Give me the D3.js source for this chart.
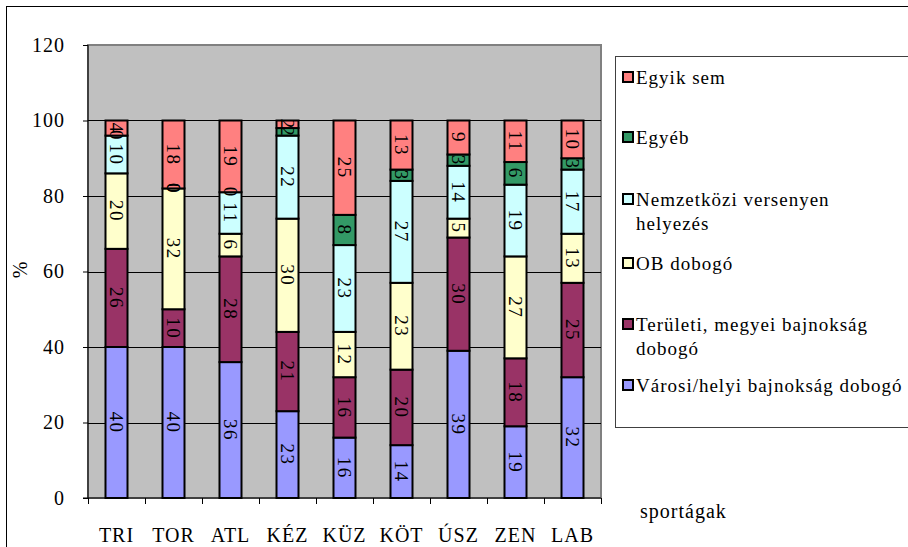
<!DOCTYPE html>
<html><head><meta charset="utf-8">
<script src="https://cdn.jsdelivr.net/npm/d3@7/dist/d3.min.js"></script>
<style>body{margin:0;background:#fff}svg{display:block}</style>
</head><body><svg id="c" width="908" height="547"></svg>
<script>
const categories = ["TRI","TOR","ATL","KÉZ","KÜZ","KÖT","ÚSZ","ZEN","LAB"];
const seriesNames = ["Városi/helyi bajnokság dobogó","Területi, megyei bajnokság dobogó","OB dobogó","Nemzetközi versenyen helyezés","Egyéb","Egyik sem"];
const varosi      = [40,40,36,23,16,14,39,19,32];
const teruleti    = [26,10,28,21,16,20,30,18,25];
const ob          = [20,32, 6,30,12,23, 5,27,13];
const nemzetkozi  = [10, 0,11,22,23,27,14,19,17];
const egyeb       = [ 0, 0, 0, 2, 8, 3, 3, 6, 3];
const egyikSem    = [ 4,18,19, 2,25,13, 9,11,10];
const yTicks = [0,20,40,60,80,100,120];
const colors = ["#9999FF","#993366","#FFFFCC","#CCFFFF","#339966","#FF8080"];
const legendLines = [["Egyik sem"],["Egyéb"],["Nemzetközi versenyen","helyezés"],["OB dobogó"],["Területi, megyei bajnokság","dobogó"],["Városi/helyi bajnokság dobogó"]];
const legendColors = ["#FF8080","#339966","#CCFFFF","#FFFFCC","#993366","#9999FF"];

const FONT = "'Liberation Serif'";
const svg = d3.select("#c");
const L=88, R=601, T=45, B=498;
const x = d3.scaleBand().domain(categories).range([L,R]).paddingInner(0.614).paddingOuter(0.307);
const y = d3.scaleLinear().domain([0,120]).range([B,T]);

// outer border
svg.append("rect").attr("x",6.5).attr("y",6.5).attr("width",960).attr("height",600).attr("fill","none").attr("stroke","#000").attr("stroke-width",1);

// plot area
svg.append("rect").attr("x",L).attr("y",T).attr("width",R-L).attr("height",B-T).attr("fill","#C0C0C0").attr("stroke","#808080").attr("stroke-width",2);
svg.append("g").selectAll("line").data(yTicks.filter(d=>d>0&&d<120)).join("line")
  .attr("x1",L).attr("x2",R).attr("y1",d=>Math.round(y(d))+0.5).attr("y2",d=>Math.round(y(d))+0.5)
  .attr("stroke","#000").attr("stroke-width",1);

// stacked data
const rows = categories.map((c,i)=>({cat:c, s0:varosi[i], s1:teruleti[i], s2:ob[i], s3:nemzetkozi[i], s4:egyeb[i], s5:egyikSem[i]}));
const keys = ["s0","s1","s2","s3","s4","s5"];
const stack = d3.stack().keys(keys)(rows);

const gBars = svg.append("g");
stack.forEach((layer,k)=>{
  gBars.append("g").selectAll("rect").data(layer).join("rect")
    .attr("x",d=>x(d.data.cat)).attr("width",x.bandwidth())
    .attr("y",d=>y(d[1])).attr("height",d=>y(d[0])-y(d[1]))
    .attr("fill",colors[k]).attr("stroke","#000").attr("stroke-width",2);
});
const gLab = svg.append("g");
stack.forEach((layer,k)=>{
  gLab.append("g").selectAll("text").data(layer).join("text")
    .attr("transform",d=>`translate(${x(d.data.cat)+x.bandwidth()/2},${(y(d[0])+y(d[1]))/2}) rotate(90)`)
    .attr("text-anchor","middle").attr("dy","0.35em").attr("font-size",19).attr("letter-spacing","1.5px")
    .text(d=>d.data[keys[k]]);
});

// y axis
const ya = svg.append("g").attr("transform",`translate(${L},0)`)
  .call(d3.axisLeft(y).tickValues(yTicks).tickSize(5).tickPadding(18));
ya.attr("font-family",null);
ya.select(".domain").attr("stroke","#000").attr("d",`M0,${T}V${B}`);
ya.selectAll(".tick line").attr("stroke","#000");
ya.selectAll("text").attr("font-size",20).attr("letter-spacing","1px");

// x axis
const xa = svg.append("g").attr("transform",`translate(0,${B})`)
  .call(d3.axisBottom(x).tickSize(0).tickPadding(30));
xa.attr("font-family",null);
xa.select(".domain").attr("stroke","#000").attr("d",`M${L-5},0H${R}`);
xa.selectAll("text").attr("font-size",20).attr("letter-spacing","1px");
const bounds = d3.range(categories.length+1).map(i=>L+i*(R-L)/categories.length);
svg.append("g").selectAll("line").data(bounds).join("line")
  .attr("x1",d=>Math.round(d)+0.5).attr("x2",d=>Math.round(d)+0.5).attr("y1",B).attr("y2",B+6).attr("stroke","#000");

svg.append("text").attr("x",640).attr("y",518).attr("font-size",20).attr("letter-spacing","1px").text("sportágak");
svg.append("text").attr("transform","translate(27,270) rotate(-90)").attr("text-anchor","middle").attr("font-size",20).text("%");

// legend
const lg = svg.append("g");
lg.append("rect").attr("x",615.5).attr("y",56.5).attr("width",320).attr("height",371).attr("fill","#fff").attr("stroke","#404040").attr("stroke-width",1);
const lyPos = [78,138,200,264,325,386];
legendLines.forEach((lines,i)=>{
  lg.append("rect").attr("x",623).attr("y",lyPos[i]-6).attr("width",10).attr("height",10).attr("fill",legendColors[i]).attr("stroke","#000").attr("stroke-width",2);
  lines.forEach((t,j)=>{
    lg.append("text").attr("x",636).attr("y",lyPos[i]+6+j*24).attr("font-size",19).attr("letter-spacing","1px").text(t);
  });
});

svg.selectAll("text").style("font-family",FONT).style("fill","#000");
</script></body></html>
